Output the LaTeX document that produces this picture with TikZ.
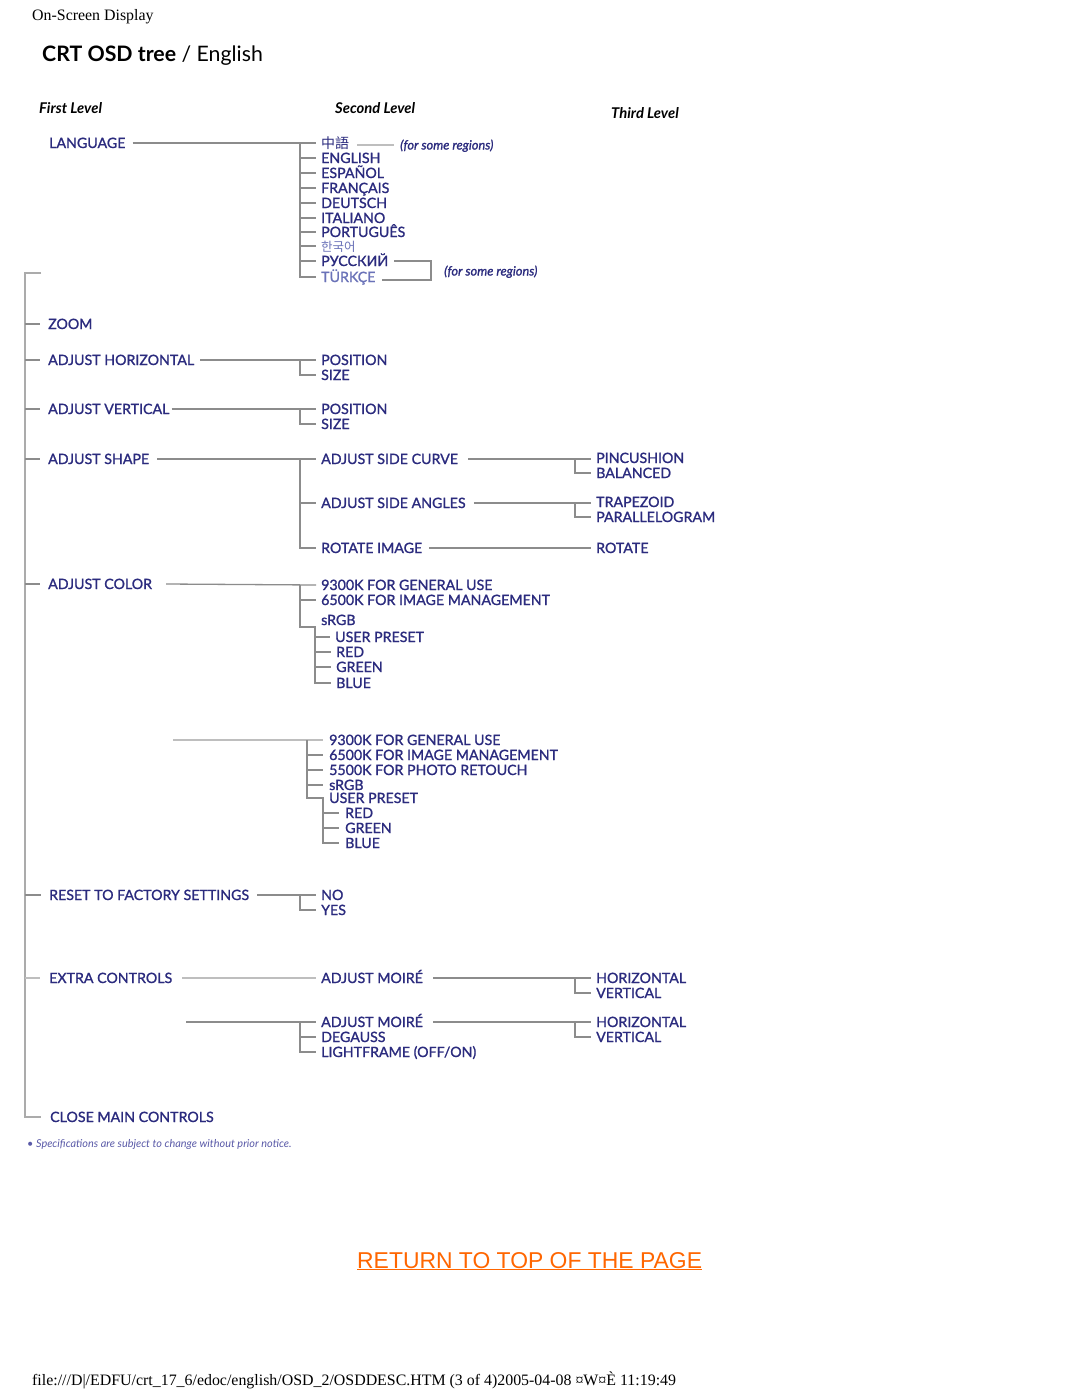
\documentclass[tikz,border=0pt]{standalone}
\usepackage{fontspec}
\setmainfont{Lato}
\newfontfamily\lblf[FakeBold=1.2]{Lato}
\newfontfamily\lblfi[FakeBold=1.2]{Lato Italic}
\newfontfamily\timesf{Liberation Serif}
\newfontfamily\arialf{Liberation Sans}
\newfontfamily\tcfont{Noto Sans CJK TC}
\newfontfamily\krfont{Noto Sans CJK KR}
\usetikzlibrary{calc}
\definecolor{navy}{HTML}{2B2B7E}
\definecolor{lightnavy}{HTML}{6A72B8}
\definecolor{notenavy}{HTML}{5A5AA8}
\definecolor{lgray}{HTML}{8C8C8C}
\definecolor{lgrayl}{HTML}{BEBEBE}
\definecolor{sgray}{HTML}{ABABAB}
\definecolor{orng}{HTML}{FF6600}
\begin{document}
\begin{tikzpicture}[x=1pt,y=-1pt,
  lbl/.style={anchor=west,inner sep=0pt,text=navy,font=\lblf\fontsize{14.2}{14}\selectfont,text height=10pt,text depth=0pt},
  hdr/.style={anchor=west,inner sep=0pt,font=\fontsize{14.8}{15}\selectfont\bfseries\itshape,text height=10pt,text depth=0pt},
  note/.style={anchor=west,inner sep=0pt,text=navy,font=\lblfi\fontsize{12.8}{13}\selectfont,text height=9pt,text depth=0pt},
  ln/.style={draw=lgray,line width=1.3pt},
  lnlt/.style={draw=lgrayl,line width=1.6pt},
  spine/.style={draw=sgray,line width=2pt},
]
\fill[white] (0,0) rectangle (1080,1397);
\useasboundingbox (0,0) rectangle (1080,1397);

% page texts
\node[anchor=base west,inner sep=0pt,font=\timesf\fontsize{15.9}{16}\selectfont] (osd) at (32,21) {On-Screen Display};
\node[anchor=base west,inner sep=0pt,font=\fontsize{21.3}{22}\selectfont] (title) at (42,62) {\textbf{CRT OSD tree} / English};
\node[hdr] (h1) at (39,108) {First Level};
\node[hdr] (h2) at (335,108) {Second Level};
\node[hdr] (h3) at (611,113) {Third Level};

% spine coordinates
\coordinate (s1) at (25,0);
\coordinate (s2) at (300,0);
\coordinate (s2b) at (307,0);
\coordinate (s2c) at (315,0);
\coordinate (s2d) at (323,0);
\coordinate (s3) at (575,0);
\coordinate (top) at (41,273);

% first level
\node[lbl] (lang) at (49,143) {LANGUAGE};
\node[lbl] (zoom) at (48,324) {ZOOM};
\node[lbl] (adjh) at (48,360) {ADJUST HORIZONTAL};
\node[lbl] (adjv) at (48,409) {ADJUST VERTICAL};
\node[lbl] (shape) at (48,459) {ADJUST SHAPE};
\node[lbl] (color) at (48,584) {ADJUST COLOR};
\node[lbl] (reset) at (49,895) {RESET TO FACTORY SETTINGS};
\node[lbl] (extra) at (49,978) {EXTRA CONTROLS};
\node[lbl] (close) at (50,1117) {CLOSE MAIN CONTROLS};

% languages
\node[lbl,font=\tcfont\fontsize{14}{14}\selectfont] (zh) at (321,143) {中語};
\node[lbl] (en) at (321,158) {ENGLISH};
\node[lbl] (es) at (321,173) {ESPAÑOL};
\node[lbl] (fr) at (321,188) {FRANÇAIS};
\node[lbl] (de) at (321,203) {DEUTSCH};
\node[lbl] (it) at (321,218) {ITALIANO};
\node[lbl] (pt) at (321,232) {PORTUGUÊS};
\node[lbl,font=\krfont\fontsize{12.5}{12}\selectfont,text=lightnavy] (ko) at (321,246) {한국어};
\node[lbl] (ru) at (321,261) {РУССКИЙ};
\node[lbl,text=lightnavy] (tr) at (321,277) {TÜRKÇE};
\node[note] (reg1) at (400,145) {(for some regions)};
\node[note] (reg2) at (444,271) {(for some regions)};
\coordinate (br) at (431,0);

% adjust horizontal / vertical
\node[lbl] (pos1) at (321,360) {POSITION};
\node[lbl] (size1) at (321,375) {SIZE};
\node[lbl] (pos2) at (321,409) {POSITION};
\node[lbl] (size2) at (321,424) {SIZE};

% adjust shape
\node[lbl] (sc) at (321,459) {ADJUST SIDE CURVE};
\node[lbl] (sa) at (321,503) {ADJUST SIDE ANGLES};
\node[lbl] (ri) at (321,548) {ROTATE IMAGE};
\node[lbl] (pin) at (596,458) {PINCUSHION};
\node[lbl] (bal) at (596,473) {BALANCED};
\node[lbl] (trap) at (596,502) {TRAPEZOID};
\node[lbl] (para) at (596,517) {PARALLELOGRAM};
\node[lbl] (rot) at (596,548) {ROTATE};

% adjust color 1
\node[lbl] (c93) at (321,585) {9300K FOR GENERAL USE};
\node[lbl] (c65) at (321,600) {6500K FOR IMAGE MANAGEMENT};
\node[lbl] (srgb) at (321,620) {sRGB};
\node[lbl] (up) at (335,637) {USER PRESET};
\node[lbl] (red) at (336,652) {RED};
\node[lbl] (green) at (336,667) {GREEN};
\node[lbl] (blue) at (336,683) {BLUE};
\coordinate (k1) at (300,627);
\coordinate (k2) at (315,627);

% adjust color 2
\coordinate (c2start) at (173,740);
\node[lbl] (d93) at (329,740) {9300K FOR GENERAL USE};
\node[lbl] (d65) at (329,755) {6500K FOR IMAGE MANAGEMENT};
\node[lbl] (d55) at (329,770) {5500K FOR PHOTO RETOUCH};
\node[lbl] (dsrgb) at (329,785) {sRGB};
\node[lbl] (dup) at (329,798) {USER PRESET};
\node[lbl] (dred) at (345,813) {RED};
\node[lbl] (dgreen) at (345,828) {GREEN};
\node[lbl] (dblue) at (345,843) {BLUE};

% reset
\node[lbl] (no) at (321,895) {NO};
\node[lbl] (yes) at (321,910) {YES};

% extra controls
\node[lbl] (am1) at (321,978) {ADJUST MOIRÉ};
\node[lbl] (hz1) at (596,978) {HORIZONTAL};
\node[lbl] (vt1) at (596,993) {VERTICAL};
\coordinate (x2start) at (186,1022);
\node[lbl] (am2) at (321,1022) {ADJUST MOIRÉ};
\node[lbl] (deg) at (321,1037) {DEGAUSS};
\node[lbl] (lf) at (321,1052) {LIGHTFRAME (OFF/ON)};
\node[lbl] (hz2) at (596,1022) {HORIZONTAL};
\node[lbl] (vt2) at (596,1037) {VERTICAL};

% ---- connectors ----
% main spine
\draw[spine] (top) -- (top -| s1) -- (close.west -| s1) -- ([xshift=-9pt]close.west);
\foreach \n in {zoom,adjh,adjv,shape,color,reset}
  \draw[ln] (\n.west -| s1) -- ([xshift=-8pt]\n.west);
\draw[lnlt] (extra.west -| s1) -- ([xshift=-9pt]extra.west);

% language
\draw[ln] ([xshift=7pt]lang.east) -- ([xshift=-5pt]zh.west);
\draw[ln] (zh.west -| s2) -- (tr.west -| s2) -- ([xshift=-5pt]tr.west);
\foreach \n in {en,es,fr,de,it,pt,ko,ru}
  \draw[ln] (\n.west -| s2) -- ([xshift=-5pt]\n.west);
\draw[lnlt] ([xshift=8pt]zh.east |- reg1.west) -- ([xshift=-6pt]reg1.west);
\draw[ln] ([xshift=6pt]ru.east) -- (ru.east -| br) -- ($(tr.east -| br)+(0,3)$) -- ($(tr.east)+(6,3)$);

% adjust horizontal / vertical
\draw[ln] ([xshift=6pt]adjh.east) -- ([xshift=-5pt]pos1.west);
\draw[ln] (pos1.west -| s2) |- ([xshift=-5pt]size1.west);
\draw[ln] ([xshift=2pt]adjv.east) -- ([xshift=-5pt]pos2.west);
\draw[ln] (pos2.west -| s2) |- ([xshift=-5pt]size2.west);

% adjust shape
\draw[ln] ([xshift=8pt]shape.east) -- ([xshift=-5pt]sc.west);
\draw[ln] (sc.west -| s2) |- ([xshift=-5pt]ri.west);
\draw[ln] (sa.west -| s2) -- ([xshift=-5pt]sa.west);
\draw[ln] ([xshift=10pt]sc.east) -- ([xshift=-5pt]pin.west |- sc.east);
\draw[ln] (sc.east -| s3) |- ([xshift=-5pt]bal.west);
\draw[ln] ([xshift=8pt]sa.east) -- ([xshift=-5pt]trap.west |- sa.east);
\draw[ln] (sa.east -| s3) |- ([xshift=-5pt]para.west);
\draw[ln] ([xshift=7pt]ri.east) -- ([xshift=-5pt]rot.west);

% adjust color 1
\draw[ln] ([xshift=14pt]color.east) -- ([xshift=-5pt]c93.west);
\draw[ln] (c93.west -| s2) -- (k1) -- (k2) -- (blue.west -| s2c) -- ([xshift=-5pt]blue.west);
\draw[ln] (c65.west -| s2) -- ([xshift=-5pt]c65.west);
\foreach \n in {up,red,green}
  \draw[ln] (\n.west -| s2c) -- ([xshift=-5pt]\n.west);

% adjust color 2
\draw[lnlt] (c2start) -- ([xshift=-6pt]d93.west);
\draw[ln] (d93.west -| s2b) -- (dup.west -| s2b) -- (dup.west -| s2d) -- (dblue.west -| s2d) -- ([xshift=-6pt]dblue.west);
\foreach \n in {d65,d55,dsrgb}
  \draw[ln] (\n.west -| s2b) -- ([xshift=-6pt]\n.west);
\foreach \n in {dred,dgreen}
  \draw[ln] (\n.west -| s2d) -- ([xshift=-6pt]\n.west);

% reset
\draw[ln] ([xshift=8pt]reset.east) -- ([xshift=-5pt]no.west);
\draw[ln] (no.west -| s2) |- ([xshift=-5pt]yes.west);

% extra controls
\draw[lnlt] ([xshift=10pt]extra.east) -- ([xshift=-5pt]am1.west);
\draw[ln] ([xshift=10pt]am1.east) -- ([xshift=-5pt]hz1.west);
\draw[ln] (hz1.west -| s3) |- ([xshift=-5pt]vt1.west);
\draw[ln] (x2start) -- ([xshift=-5pt]am2.west);
\draw[ln] (am2.west -| s2) |- ([xshift=-5pt]lf.west);
\draw[ln] (deg.west -| s2) -- ([xshift=-5pt]deg.west);
\draw[ln] ([xshift=10pt]am2.east) -- ([xshift=-5pt]hz2.west);
\draw[ln] (hz2.west -| s3) |- ([xshift=-5pt]vt2.west);

% notes and footer
\node[anchor=west,inner sep=0pt,text=notenavy,font=\fontsize{10.9}{11}\selectfont\itshape,text height=7.5pt,text depth=0pt] (spec) at (27,1144) {• Specifications are subject to change without prior notice.};
\node[anchor=base west,inner sep=0pt,text=orng,font=\arialf\fontsize{22.9}{23}\selectfont] (ret) at (357,1268) {\underline{RETURN TO TOP OF THE PAGE}};
\node[anchor=base west,inner sep=0pt,font=\timesf\fontsize{15.9}{16}\selectfont] (foot) at (32,1385) {file:///D|/EDFU/crt\_17\_6/edoc/english/OSD\_2/OSDDESC.HTM (3 of 4)2005-04-08 ¤W¤È 11:19:49};
\end{tikzpicture}
\end{document}
